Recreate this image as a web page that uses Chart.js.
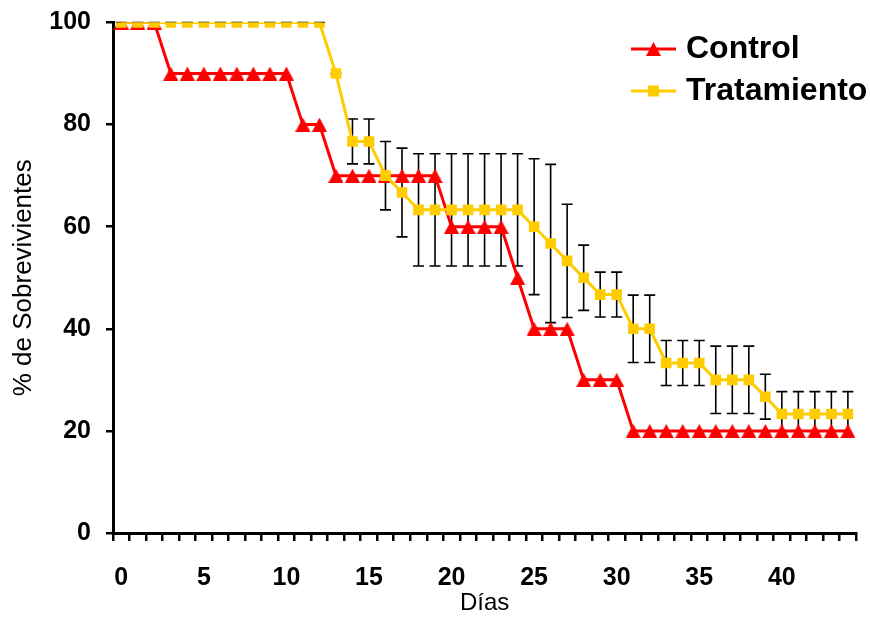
<!DOCTYPE html>
<html>
<head>
<meta charset="utf-8">
<script src="https://cdn.jsdelivr.net/npm/chart.js@4.4.1/dist/chart.umd.min.js"></script>
<style>
  html, body { margin: 0; padding: 0; background: #fff; }
  #wrap { width: 870px; height: 618px; }
</style>
</head>
<body>
<div id="wrap"><canvas id="chart" width="870" height="618"></canvas></div>
<script>
// Datos
const dias = [0,1,2,3,4,5,6,7,8,9,10,11,12,13,14,15,16,17,18,19,20,21,22,23,24,25,26,27,28,29,30,31,32,33,34,35,36,37,38,39,40,41,42,43,44];
const control = [100,100,100,90,90,90,90,90,90,90,90,80,80,70,70,70,70,70,70,70,60,60,60,60,50,40,40,40,30,30,30,20,20,20,20,20,20,20,20,20,20,20,20,20,20];
const tratamiento = [100,100,100,100,100,100,100,100,100,100,100,100,100,90,76.7,76.7,70,66.7,63.3,63.3,63.3,63.3,63.3,63.3,63.3,60,56.7,53.3,50,46.7,46.7,40,40,33.3,33.3,33.3,30,30,30,26.7,23.3,23.3,23.3,23.3,23.3];
const errTratamiento = [0,0,0,0,0,0,0,0,0,0,0,0,0,0,4.4,4.4,6.7,8.7,11,11,11,11,11,11,11,13.3,15.5,11.1,6.4,4.4,4.4,6.6,6.6,4.4,4.4,4.4,6.6,6.6,6.6,4.4,4.4,4.4,4.4,4.4,4.4];
const yTicks = [0, 20, 40, 60, 80, 100];

const ROJO = '#FF0000';
const AMARILLO = '#FFCC00';
const FONT = 'Liberation Sans, Arial, sans-serif';

// triángulo centrado en su caja (como los marcadores de Excel)
function triangulo(w, h, color) {
  const c = document.createElement('canvas');
  c.width = w; c.height = h;
  const g = c.getContext('2d');
  g.fillStyle = color;
  g.beginPath();
  g.moveTo(w / 2, 0);
  g.lineTo(w, h);
  g.lineTo(0, h);
  g.closePath();
  g.fill();
  return c;
}
const triRojo = triangulo(15, 14, ROJO);

// Barras de error (detrás de los marcadores)
const errorBars = {
  id: 'errorBars',
  beforeDatasetsDraw(chart) {
    const idx = chart.data.datasets.findIndex(d => d.label === 'Tratamiento');
    const meta = chart.getDatasetMeta(idx);
    const y = chart.scales.y;
    const ctx = chart.ctx;
    ctx.save();
    ctx.strokeStyle = '#000';
    ctx.lineWidth = 1.6;
    meta.data.forEach((pt, i) => {
      const v = tratamiento[i], e = errTratamiento[i];
      const top = y.getPixelForValue(v + e);
      const bot = y.getPixelForValue(v - e);
      ctx.beginPath();
      ctx.moveTo(pt.x, top); ctx.lineTo(pt.x, bot);
      ctx.moveTo(pt.x - 5.5, top); ctx.lineTo(pt.x + 5.5, top);
      ctx.moveTo(pt.x - 5.5, bot); ctx.lineTo(pt.x + 5.5, bot);
      ctx.stroke();
    });
    ctx.restore();
  }
};

// Leyenda con línea + marcador
const leyenda = {
  id: 'leyenda',
  afterDraw(chart) {
    const ctx = chart.ctx;
    const items = [
      { text: 'Control', color: ROJO, y: 49 },
      { text: 'Tratamiento', color: AMARILLO, y: 91 }
    ];
    ctx.save();
    items.forEach((it, k) => {
      ctx.strokeStyle = it.color;
      ctx.lineWidth = 3;
      ctx.beginPath();
      ctx.moveTo(631, it.y); ctx.lineTo(676, it.y);
      ctx.stroke();
      if (k === 0) {
        ctx.drawImage(triRojo, 653.5 - 7.5, it.y - 7);
      } else {
        ctx.fillStyle = it.color;
        ctx.fillRect(653.5 - 5.5, it.y - 5.5, 11, 11);
      }
      ctx.fillStyle = '#000';
      ctx.font = 'bold 32px ' + FONT;
      ctx.textBaseline = 'middle';
      ctx.textAlign = 'left';
      ctx.fillText(it.text, 686, it.y);
    });
    ctx.restore();
  }
};

new Chart(document.getElementById('chart'), {
  type: 'line',
  data: {
    labels: dias,
    datasets: [
      {
        label: 'Control',
        data: control,
        borderColor: ROJO,
        backgroundColor: ROJO,
        borderWidth: 3,
        pointStyle: triRojo,
        pointRadius: 8,
        pointBorderWidth: 0,
        tension: 0,
        order: 2
      },
      {
        label: 'Tratamiento',
        data: tratamiento,
        borderColor: AMARILLO,
        backgroundColor: AMARILLO,
        borderWidth: 3,
        pointStyle: 'rect',
        pointRadius: 7.5,
        pointBorderWidth: 0,
        tension: 0,
        order: 1
      }
    ]
  },
  options: {
    responsive: false,
    animation: false,
    layout: { padding: { top: 17, right: 10, left: 0, bottom: 0 } },
    plugins: {
      legend: { display: false },
      tooltip: { enabled: false }
    },
    scales: {
      x: {
        type: 'category',
        offset: true,
        grid: { offset: true, drawOnChartArea: false, drawTicks: true, tickLength: 8, color: '#000', lineWidth: 2.5 },
        border: { color: '#000', width: 3 },
        ticks: {
          autoSkip: false,
          maxRotation: 0,
          padding: 22,
          color: '#000',
          font: { family: FONT, size: 25, weight: 'bold' },
          callback: (val, i) => (i % 5 === 0 ? dias[i] : '')
        },
        title: { display: true, text: 'Días', color: '#000', padding: { top: 3, bottom: 0 }, font: { family: FONT, size: 24 } },
        afterFit: s => { s.height = 618 - 533; }
      },
      y: {
        min: 0,
        max: 100,
        afterBuildTicks: s => { s.ticks = yTicks.map(v => ({ value: v })); },
        grid: { drawOnChartArea: false, drawTicks: true, tickLength: 7, color: '#000', lineWidth: 2.5 },
        border: { color: '#000', width: 3 },
        ticks: { padding: 15, color: '#000', font: { family: FONT, size: 25, weight: 'bold', lineHeight: 0.6 } },
        title: { display: true, text: '% de Sobrevivientes', color: '#000', padding: { top: 8, bottom: 0 }, font: { family: FONT, size: 26 } },
        afterFit: s => { s.width = 113; }
      }
    }
  },
  plugins: [errorBars, leyenda]
});
</script>
</body>
</html>
